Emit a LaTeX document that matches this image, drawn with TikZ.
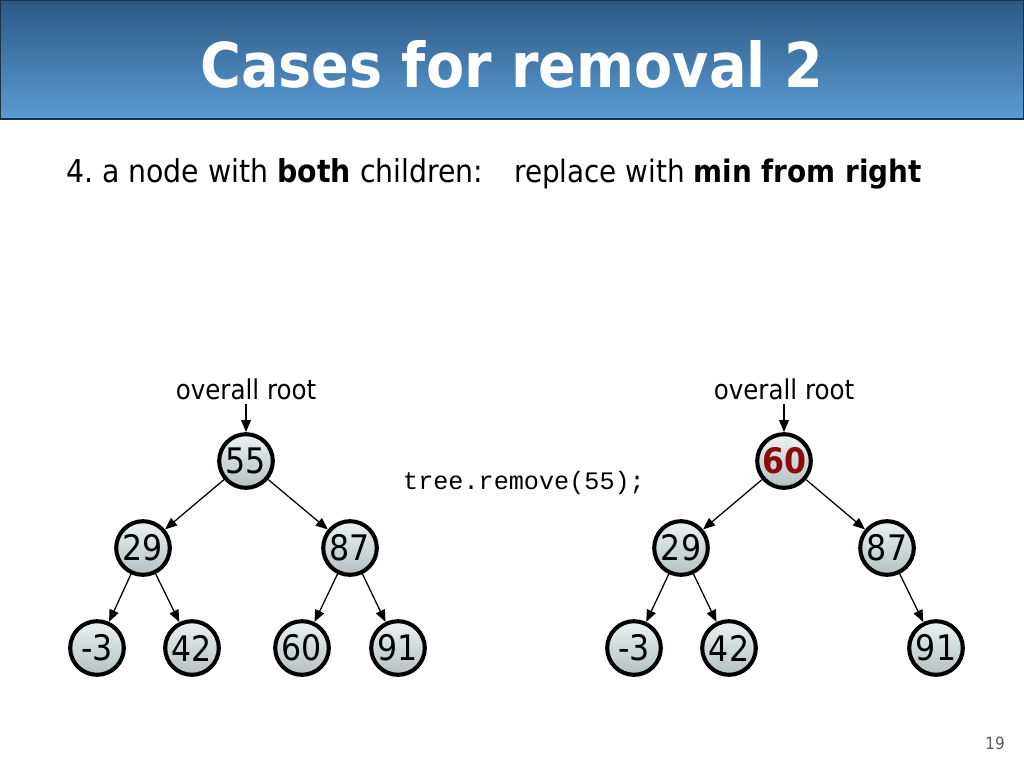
\documentclass[tikz,border=0pt]{standalone}
\usepackage{fontspec}
\setmainfont{DejaVu Sans Condensed}
\newfontfamily\codefont{Liberation Mono}
\usetikzlibrary{arrows.meta,positioning}
\tikzset{>={Triangle[length=3mm,width=2.4mm]}}
\definecolor{hdtop}{RGB}{44,88,132}
\definecolor{hdbot}{RGB}{90,156,212}
\definecolor{hdline}{RGB}{30,50,70}
\definecolor{nodetop}{RGB}{236,242,242}
\definecolor{nodebot}{RGB}{180,192,194}
\definecolor{newroot}{RGB}{140,10,10}
\tikzset{
  bst/.style={circle, draw=black, line width=2.9pt, minimum size=1.34cm, inner sep=0pt,
    top color=nodetop, bottom color=nodebot, font=\fontsize{25}{25}\selectfont},
  lbl/.style={anchor=base, font=\fontsize{19.4}{20}\selectfont},
  link/.style={->, line width=0.9pt}
}
\begin{document}
\begin{tikzpicture}[x=0.025cm, y=-0.025cm]
      \useasboundingbox (0,0) rectangle (1024,768);
      % header
      \shade[top color=hdtop, bottom color=hdbot] (0,0) rectangle (1024,119);
      \draw[hdline, line width=1pt] (0.5,0.5) rectangle (1023.5,119);
      \node[anchor=base, text=white, font=\fontsize{44}{44}\selectfont\bfseries] (title) at (512,88) {Cases for removal 2};
      % text
      \node[anchor=base west, inner sep=0pt, font=\fontsize{22.4}{24}\selectfont] (case) at (66,182) {4.\ a node with \textbf{both} children:};
      \node[anchor=base west, inner sep=0pt, font=\fontsize{22}{24}\selectfont] (rule) at (514,182) {replace with \textbf{min from right}};
      \node[anchor=base, font=\codefont\fontsize{17.9}{18}\selectfont] (call) at (524,489) {tree.remove(55);};
      \node[anchor=base, text=black!65, font=\fontsize{12}{12}\selectfont] (page) at (995,749) {19};
      % tree before
      \node[lbl] (lroot) at (246,399) {overall root};
      \node[bst] (a55) at (246,461) {55};
      \node[bst] (a29) at (143,548) {29};
      \node[bst] (a87) at (350,548) {87};
      \node[bst] (a-3) at (97,648) {-3};
      \node[bst] (a42) at (192,648) {42};
      \node[bst] (a60) at (302,648) {60};
      \node[bst] (a91) at (398,648) {91};
      \draw[link] (lroot) -- (a55);
      \draw[link] (a55) -- (a29);
      \draw[link] (a55) -- (a87);
      \draw[link] (a29) -- (a-3);
      \draw[link] (a29) -- (a42);
      \draw[link] (a87) -- (a60);
      \draw[link] (a87) -- (a91);
      % tree after
      \node[lbl] (rroot) at (784,399) {overall root};
      \node[bst, text=newroot, font=\fontsize{25}{25}\selectfont\bfseries] (b60) at (784,461) {60};
      \node[bst] (b29) at (681,548) {29};
      \node[bst] (b87) at (887,548) {87};
      \node[bst] (b-3) at (634,648) {-3};
      \node[bst] (b42) at (729,648) {42};
      \node[bst] (b91) at (936,648) {91};
      \draw[link] (rroot) -- (b60);
      \draw[link] (b60) -- (b29);
      \draw[link] (b60) -- (b87);
      \draw[link] (b29) -- (b-3);
      \draw[link] (b29) -- (b42);
      \draw[link] (b87) -- (b91);
\end{tikzpicture}
\end{document}
